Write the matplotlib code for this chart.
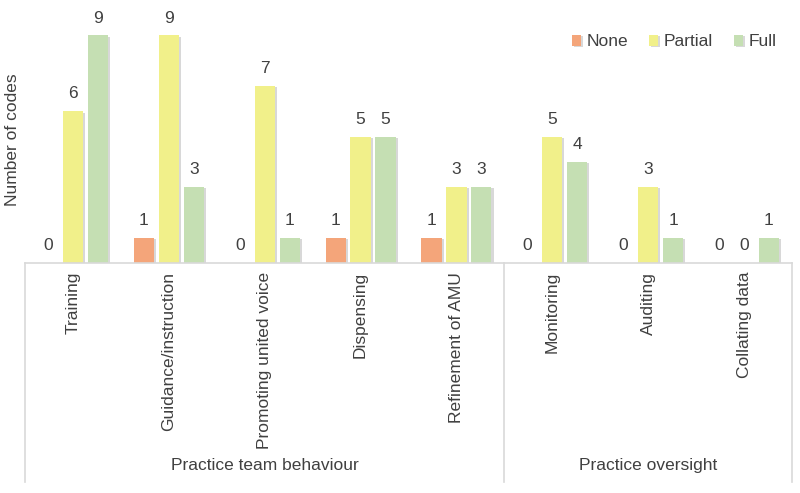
import matplotlib
matplotlib.use('Agg')
import matplotlib.pyplot as plt
import matplotlib.patheffects as pe
import numpy as np

plt.rcParams['font.family'] = ['Liberation Sans', 'DejaVu Sans']

# data
categories = ['Training', 'Guidance/instruction', 'Promoting united voice', 'Dispensing',
              'Refinement of AMU', 'Monitoring', 'Auditing', 'Collating data']
groups = ['Practice team behaviour', 'Practice oversight']
group_sizes = [5, 3]
none_vals = [0, 1, 0, 1, 1, 0, 0, 0]
partial_vals = [6, 9, 7, 5, 3, 5, 3, 0]
full_vals = [9, 3, 1, 5, 3, 4, 1, 1]

series = [('None', none_vals, '#F4A57A'),
          ('Partial', partial_vals, '#F1F08A'),
          ('Full', full_vals, '#C5DFB3')]

text_col = '#404040'
line_col = '#D9D9D9'
fs = 12.5

fig = plt.figure(figsize=(8, 4.93), dpi=100)
ax = fig.add_axes([25 / 800, 230 / 493, 767 / 800, 253 / 493])

x = np.arange(len(categories)) + 0.5
width = 0.21
step = 0.26
shadow = [pe.SimplePatchShadow(offset=(1.5, -1), shadow_rgbFace='#808080', alpha=0.3), pe.Normal()]

for k, (name, vals, col) in enumerate(series):
    pos = x + (k - 1) * step
    ax.bar(pos, vals, width, color=col, label=name, path_effects=shadow)
    for xp, v in zip(pos, vals):
        ax.annotate(str(v), (xp, v), xytext=(0, 7), textcoords='offset points',
                    ha='center', va='bottom', fontsize=fs, color=text_col)

ax.set_xlim(0, len(categories))
ax.set_ylim(0, 10)
ax.set_yticks([])
ax.set_xticks([])
for s in ['top', 'right', 'left']:
    ax.spines[s].set_visible(False)
ax.spines['bottom'].set_color(line_col)
ax.spines['bottom'].set_linewidth(1.2)

# category labels
tr = ax.get_xaxis_transform()
for xp, lab in zip(x, categories):
    ax.text(xp, -0.035, lab, rotation=90, ha='center', va='top', transform=tr,
            fontsize=fs, color=text_col)

# group separators and labels
bounds = np.concatenate([[0], np.cumsum(group_sizes)])
for b in bounds:
    ax.plot([b, b], [0, -0.866], transform=tr, color=line_col, lw=1.2, clip_on=False)
for i, g in enumerate(groups):
    mid = (bounds[i] + bounds[i + 1]) / 2
    ax.text(mid, -0.80, g, ha='center', va='center', transform=tr,
            fontsize=fs, color=text_col)

fig.text(13 / 800, 1 - 140 / 493, 'Number of codes', rotation=90, ha='center', va='center',
         fontsize=fs, color=text_col)

ax.legend(loc='upper right', bbox_to_anchor=(1.0, 0.965), ncol=3, frameon=False,
          fontsize=fs, handlelength=0.55, handleheight=0.55, handletextpad=0.3,
          columnspacing=1.2, labelcolor=text_col)

fig.savefig('out.png', dpi=100)
